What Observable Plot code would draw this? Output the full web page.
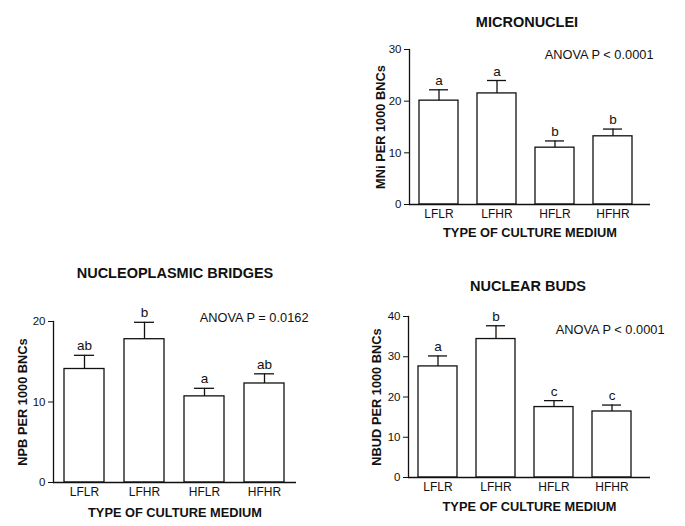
<!DOCTYPE html>
<html>
<head>
<meta charset="utf-8">
<script src="https://cdn.jsdelivr.net/npm/d3@7"></script>
<script src="https://cdn.jsdelivr.net/npm/@observablehq/plot@0.6"></script>
<style>
  html, body { margin: 0; padding: 0; background: #fff; }
  #root { position: relative; width: 685px; height: 526px; overflow: hidden; font-family: "Liberation Sans", Arial, sans-serif; color: #111; }
  .panel { position: absolute; }
  .title { position: absolute; width: 300px; text-align: center; font-weight: bold; font-size: 14.5px; line-height: 16px; color: #111; }
  svg [aria-label="y-axis label"] text, svg [aria-label="x-axis label"] text { font-weight: bold; font-size: 12.8px; }
</style>
</head>
<body>
<div id="root"></div>
<script>
const categories = ["LFLR", "LFHR", "HFLR", "HFHR"];

const mniMean = [20.1, 21.5, 11.0, 13.2];
const mniSem = [2.1, 2.5, 1.3, 1.4];
const mniLetters = ["a", "a", "b", "b"];
const mniTicks = [0, 10, 20, 30];

const npbMean = [14.1, 17.8, 10.7, 12.3];
const npbSem = [1.7, 2.1, 1.0, 1.2];
const npbLetters = ["ab", "b", "a", "ab"];
const npbTicks = [0, 10, 20];

const nbudMean = [27.6, 34.4, 17.5, 16.4];
const nbudSem = [2.6, 3.3, 1.6, 1.6];
const nbudLetters = ["a", "b", "c", "c"];
const nbudTicks = [0, 10, 20, 30, 40];

const xTitle = "TYPE OF CULTURE MEDIUM";

const root = document.getElementById("root");

function panel(cfg) {
  const data = categories.map((c, i) => ({
    cat: c, mean: cfg.mean[i], top: cfg.mean[i] + cfg.sem[i], letter: cfg.letters[i]
  }));
  const ink = "#111";
  const chart = Plot.plot({
    width: cfg.width, height: cfg.height,
    marginLeft: cfg.ml, marginRight: cfg.mr, marginTop: cfg.mt, marginBottom: cfg.mb,
    style: { fontFamily: "'Liberation Sans', Arial, sans-serif", color: ink, background: "white" },
    x: { domain: categories, paddingInner: 0.33, paddingOuter: cfg.po, align: cfg.align, label: null },
    y: { domain: [0, cfg.ticks[cfg.ticks.length - 1]], label: null },
    marks: [
      Plot.barY(data, { x: "cat", y: "mean", fill: "white", stroke: ink, strokeWidth: 1.3 }),
      Plot.ruleX(data, { x: "cat", y1: "mean", y2: "top", stroke: ink, strokeWidth: 1.3 }),
      Plot.tickY(data, { x: "cat", y: "top", stroke: ink, strokeWidth: 1.3, insetLeft: 10, insetRight: 10 }),
      Plot.text(data, { x: "cat", y: "top", text: "letter", lineAnchor: "bottom", dy: -5, fontSize: 13.5, fill: ink }),
      Plot.text([cfg.anova], { text: d => d, frameAnchor: "top-right", dx: cfg.adx, dy: cfg.ady, fontSize: 12.8, fill: ink }),
      Plot.axisY({ ticks: cfg.ticks, tickSize: 5, tickPadding: 3, fontSize: 11.5, label: cfg.ylabel, labelAnchor: "center", labelArrow: "none", labelOffset: cfg.ylo }),
      Plot.axisX({ tickSize: 0, tickPadding: 5, fontSize: 12, label: xTitle, labelAnchor: "center", labelArrow: "none", labelOffset: cfg.xlo }),
      Plot.ruleY([0], { stroke: ink, strokeWidth: 1.3 }),
      Plot.frame({ anchor: "left", stroke: ink, strokeWidth: 1.3 })
    ]
  });
  const wrap = document.createElement("div");
  wrap.className = "panel";
  wrap.style.left = cfg.left + "px";
  wrap.style.top = cfg.top + "px";
  wrap.appendChild(chart);
  root.appendChild(wrap);
  const t = document.createElement("div");
  t.className = "title";
  t.textContent = cfg.title;
  t.style.left = (cfg.tcx - 150) + "px";
  t.style.top = (cfg.tcy - 8) + "px";
  root.appendChild(t);
}

panel({
  left: 340, top: 0, width: 345, height: 245, ml: 69, mr: 35, mt: 49, mb: 41,
  po: 0.24, align: 0.36, ticks: mniTicks, mean: mniMean, sem: mniSem, letters: mniLetters,
  ylabel: "MNi PER 1000 BNCs", anova: "ANOVA P < 0.0001", adx: 3, ady: 0,
  ylo: 34, xlo: 32, title: "MICRONUCLEI", tcx: 527, tcy: 22
});

panel({
  left: 0, top: 255, width: 345, height: 271, ml: 53, mr: 49, mt: 66, mb: 44,
  po: 0.17, align: 0.5, ticks: npbTicks, mean: npbMean, sem: npbSem, letters: npbLetters,
  ylabel: "NPB PER 1000 BNCs", anova: "ANOVA P = 0.0162", adx: 12, ady: -9,
  ylo: 36, xlo: 34, title: "NUCLEOPLASMIC BRIDGES", tcx: 175, tcy: 273
});

panel({
  left: 340, top: 265, width: 345, height: 261, ml: 68, mr: 35, mt: 51, mb: 49,
  po: 0.24, align: 0.36, ticks: nbudTicks, mean: nbudMean, sem: nbudSem, letters: nbudLetters,
  ylabel: "NBUD PER 1000 BNCs", anova: "ANOVA P < 0.0001", adx: 14, ady: 8,
  ylo: 37, xlo: 33, title: "NUCLEAR BUDS", tcx: 528, tcy: 286
});
</script>
</body>
</html>
